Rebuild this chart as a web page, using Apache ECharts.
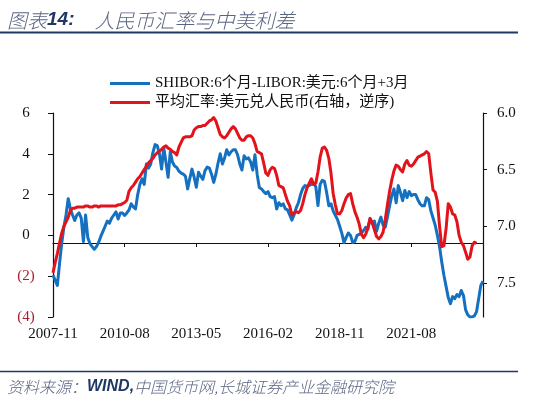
<!DOCTYPE html>
<html>
<head>
<meta charset="utf-8">
<script src="https://cdn.jsdelivr.net/npm/echarts@6/dist/echarts.min.js"></script>
<style>html,body{margin:0;padding:0;background:#fff}#c{width:550px;height:395px}</style>
</head>
<body>
<div id="c"></div>
<script>
// Monthly categories 2007-11 .. 2024-05
const startYear = 2007, startMonth = 11, monthCount = 199;
const categories = [];
for (let i = 0; i < monthCount; i++) {
  const m = startMonth - 1 + i;
  const y = startYear + Math.floor(m / 12);
  const mm = (m % 12) + 1;
  categories.push(y + '-' + (mm < 10 ? '0' + mm : '' + mm));
}

const seriesNames = ['SHIBOR:6个月-LIBOR:美元:6个月+3月', '平均汇率:美元兑人民币(右轴，逆序)'];

// SHIBOR 6M - LIBOR USD 6M (+3 months), percentage points
const spread = [
  -1.95, -2.2, -2.45, -1.4, -0.4, 0.4, 1.0, 1.8, 1.3, 1.0,
  0.73, 1.0, 1.1, 0.85, -0.3, 1.0, -0.1, -0.4, -0.55, -0.68,
  -0.55, -0.35, -0.05, 0.2, 0.45, 0.7, 0.6, 0.85, 1.0, 1.15,
  0.8, 1.1, 1.1, 0.98, 1.1, 1.25, 1.55, 1.4, 1.3, 2.0,
  2.5, 2.77, 2.5, 3.5, 3.3, 3.5, 4.06, 4.45, 4.4, 4.0,
  3.25, 4.3, 3.6, 2.85, 4.1, 3.6, 3.4, 3.33, 3.15, 3.05,
  3.0, 2.9, 2.28, 2.8, 3.25, 2.85, 2.36, 3.1, 2.9, 2.75,
  3.17, 3.35, 3.3, 3.0, 2.6, 3.0, 3.55, 4.0, 3.5, 3.8,
  4.2, 3.94, 4.1, 4.2, 4.2, 3.95, 3.5, 3.2, 3.9, 3.75,
  3.8, 3.6, 3.2, 3.95, 3.0, 2.35, 2.28, 2.15, 2.05, 2.15,
  1.9, 1.85, 1.9, 1.3, 1.6, 1.46, 1.55, 1.3, 1.25, 1.0,
  0.75, 1.0, 1.35, 1.6, 2.0, 2.3, 2.44, 2.4, 2.45, 2.5,
  2.52, 2.4, 1.46, 2.5, 2.7, 2.65, 2.1, 1.45, 1.55, 1.2,
  0.98, 0.78, 0.45, 0.1, -0.35, -0.1, 0.12, 0.0, -0.35, -0.3,
  0.0, 0.05, 0.12, 0.24, 0.4, 0.3, 0.81, 0.6, 0.7, 0.2,
  0.6, 0.9, 0.5, 0.4, 0.9, 1.45, 1.95, 2.28, 1.6, 2.44,
  2.1, 1.7, 2.2, 1.85, 2.15, 1.95, 2.0, 2.0, 1.75, 1.55,
  1.45, 1.45, 1.85, 1.75, 1.2, 0.85, 0.5, 0.0, -0.55, -1.3,
  -1.95, -2.5, -3.05, -3.35, -3.0, -3.1, -2.9, -3.0, -2.7, -2.95,
  -3.65, -3.9, -4.0, -4.0, -3.95, -3.75, -3.1, -2.45, -2.25
];

// USD/CNY monthly average (right axis, inverted)
const usdcny = [
  7.41, 7.32, 7.24, 7.15, 7.06, 7.00, 6.96, 6.92, 6.86, 6.84,
  6.84, 6.83, 6.83, 6.83, 6.83, 6.82, 6.82, 6.83, 6.83, 6.82,
  6.82, 6.83, 6.82, 6.82, 6.82, 6.82, 6.82, 6.82, 6.82, 6.82,
  6.81, 6.81, 6.80, 6.79, 6.77, 6.69, 6.66, 6.64, 6.61, 6.58,
  6.56, 6.53, 6.50, 6.47, 6.44, 6.42, 6.40, 6.37, 6.35, 6.34,
  6.32, 6.30, 6.29, 6.31, 6.32, 6.34, 6.35, 6.37, 6.30, 6.26,
  6.22, 6.21, 6.21, 6.21, 6.20, 6.15, 6.13, 6.12, 6.12, 6.11,
  6.11, 6.09, 6.07, 6.06, 6.04, 6.07, 6.13, 6.19, 6.21, 6.22,
  6.20, 6.17, 6.14, 6.12, 6.14, 6.18, 6.22, 6.24, 6.24, 6.21,
  6.20, 6.20, 6.22, 6.27, 6.34, 6.35, 6.36, 6.44, 6.53, 6.55,
  6.50, 6.48, 6.49, 6.55, 6.64, 6.65, 6.66, 6.72, 6.78, 6.82,
  6.90, 6.88, 6.87, 6.88, 6.86, 6.80, 6.72, 6.66, 6.62, 6.58,
  6.63, 6.62, 6.52, 6.39, 6.31, 6.30, 6.33, 6.40, 6.53, 6.71,
  6.81, 6.89, 6.89, 6.86, 6.80, 6.75, 6.72, 6.71, 6.80, 6.87,
  6.92, 6.98, 7.07, 7.10, 7.07, 7.01, 6.93, 6.97, 7.03, 7.09,
  7.11, 7.09, 7.05, 6.94, 6.81, 6.69, 6.59, 6.51, 6.46, 6.47,
  6.50, 6.52, 6.45, 6.42, 6.46, 6.47, 6.45, 6.42, 6.39, 6.38,
  6.37, 6.36, 6.34, 6.36, 6.53, 6.68, 6.70, 6.78, 7.00, 7.18,
  7.17, 7.02, 6.80, 6.83, 6.89, 6.90, 6.96, 7.08, 7.14, 7.17,
  7.23, 7.29, 7.27, 7.17, 7.14, 7.15, null, null, null
];

const labelStep = 33;
const leftTickLabels = { '-4': '(4)', '-2': '(2)', '0': '0', '2': '2', '4': '4', '6': '6' };

const serif = '"Liberation Serif", "Noto Sans CJK SC", serif';
const chart = echarts.init(document.getElementById('c'), null, { renderer: 'canvas' });
const showIdx = (i) => i % labelStep === 0 && i < categories.length - 1;

chart.setOption({
  animation: false,
  backgroundColor: '#fff',
  title: [
    {
      text: '{a|图表}{b|14:}{a|　人民币汇率与中美利差}',
      left: 2, top: 5,
      textStyle: {
        rich: {
          a: { fontSize: 20, fontStyle: 'italic', fontWeight: 300, color: '#5a6582', fontFamily: '"Noto Sans CJK SC"' },
          b: { fontSize: 19, fontStyle: 'italic', fontWeight: 'bold', color: '#1f3864', fontFamily: '"Liberation Sans"' }
        }
      }
    },
    {
      text: '{a|资料来源：}{b|WIND,}{a|中国货币网,长城证券产业金融研究院}',
      left: 2, top: 374,
      textStyle: {
        rich: {
          a: { fontSize: 16, fontStyle: 'italic', fontWeight: 300, color: '#5a6582', fontFamily: '"Noto Sans CJK SC"' },
          b: { fontSize: 16, fontStyle: 'italic', fontWeight: 'bold', color: '#1f3864', fontFamily: '"Liberation Sans"' }
        }
      }
    }
  ],
  graphic: [
    { type: 'line', shape: { x1: 0, y1: 32.5, x2: 518, y2: 32.5 }, style: { stroke: '#1f3864', lineWidth: 2 } },
    { type: 'line', shape: { x1: 0, y1: 371.5, x2: 518, y2: 371.5 }, style: { stroke: '#1f3864', lineWidth: 1.5 } }
  ],
  legend: {
    orient: 'vertical',
    left: 105, top: 70,
    itemWidth: 40, itemHeight: 3, itemGap: 2,
    icon: 'rect',
    data: seriesNames,
    textStyle: { fontFamily: serif, fontSize: 15, color: '#111', lineHeight: 17 }
  },
  grid: { left: 53, right: 67, top: 113, bottom: 78 },
  xAxis: [
    {
      type: 'category', data: categories, boundaryGap: false, position: 'bottom',
      axisLine: { show: false }, axisTick: { show: false }, splitLine: { show: false },
      axisLabel: { interval: (i) => showIdx(i), margin: 10, fontFamily: serif, fontSize: 15, color: '#111' }
    },
    {
      type: 'category', data: categories, boundaryGap: false, position: 'top', offset: -130,
      axisLine: { show: true, lineStyle: { color: '#111', width: 1.2 } },
      axisTick: { show: true, inside: true, length: 4, interval: (i) => showIdx(i), lineStyle: { color: '#111' } },
      axisLabel: { show: false }, splitLine: { show: false }
    }
  ],
  yAxis: [
    {
      type: 'value', min: -4, max: 6, interval: 2, position: 'left',
      axisLine: { show: true, lineStyle: { color: '#111', width: 1.2 } },
      axisTick: { show: true, length: 5, lineStyle: { color: '#111' } },
      splitLine: { show: false },
      axisLabel: {
        margin: 27, align: 'center', fontFamily: serif, fontSize: 15,
        formatter: (v) => leftTickLabels[String(v)] || String(v),
        color: (v) => (Number(v) < 0 ? '#a8202e' : '#111')
      }
    },
    {
      type: 'value', min: 6, max: 7.8, interval: 0.5, inverse: true, position: 'right',
      axisLine: { show: true, lineStyle: { color: '#111', width: 1.2 } },
      axisTick: { show: true, length: 4, lineStyle: { color: '#111' } },
      splitLine: { show: false },
      axisLabel: {
        margin: 14, showMaxLabel: false, fontFamily: serif, fontSize: 15, color: '#111',
        formatter: (v) => (Math.abs(v - 7.8) < 1e-6 ? '' : v.toFixed(1))
      }
    }
  ],
  series: [
    {
      name: seriesNames[0], type: 'line', xAxisIndex: 0, yAxisIndex: 0, data: spread,
      showSymbol: false, symbol: 'none', color: '#1570c0',
      lineStyle: { color: '#1570c0', width: 3, join: 'round' }
    },
    {
      name: seriesNames[1], type: 'line', xAxisIndex: 0, yAxisIndex: 1, data: usdcny,
      showSymbol: false, symbol: 'none', color: '#e3131b',
      lineStyle: { color: '#e3131b', width: 3, join: 'round' }
    }
  ]
});
</script>
</body>
</html>
